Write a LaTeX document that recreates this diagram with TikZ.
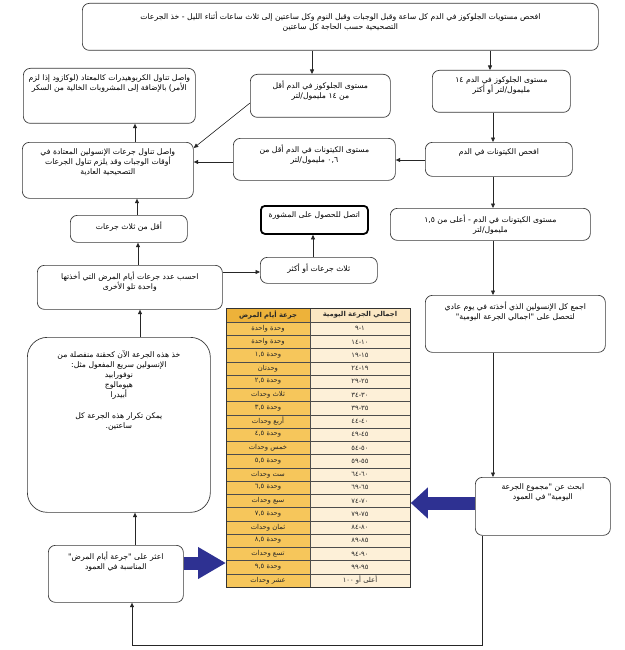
\documentclass[tikz,border=0pt]{standalone}
\usepackage{fontspec}
\setmainfont{DejaVu Sans}
\newfontfamily\arabicfont[Script=Arabic]{DejaVu Sans}
\TeXXeTstate=1
\usetikzlibrary{arrows.meta,calc}
\definecolor{boxline}{HTML}{3A3A3A}
\definecolor{gold}{HTML}{F6C65B}
\definecolor{goldhead}{HTML}{EDB23A}
\definecolor{cream}{HTML}{FDF0D8}
\definecolor{creamhead}{HTML}{FBE7C2}
\definecolor{fatblue}{HTML}{2E3192}
\newcommand\AR[1]{\mbox{\beginR #1\endR}}
\def\padtop{6pt}
\newcommand\FB[7][]{%
  \pgfmathsetmacro\bw{#5-#3}%
  \pgfmathsetmacro\bh{#6-#4}%
  \node[fb,anchor=north west,#1] (#2) at (#3,#4)
   {\parbox[c][\bh pt][t]{\bw pt}{\centering\vspace*{\padtop}#7\par}};}
\begin{document}
\begin{tikzpicture}[x=1pt,y=-1pt,
  fb/.style={draw=boxline,line width=0.7pt,rounded corners=7pt,inner sep=0pt,fill=white,
    font=\arabicfont\fontsize{7.7}{10.2}\selectfont},
  arr/.style={draw=black!85,line width=0.6pt,-{Triangle[length=4.5pt,width=4pt]}},
  fat/.style={line width=13pt,draw=fatblue},
  tabtxt/.style={font=\arabicfont\fontsize{6.8}{8}\selectfont,inner sep=0pt,text=black!85},
  grid/.style={draw=black!70,line width=0.4pt}]
\useasboundingbox (0,0) rectangle (624,650);
\fill[white] (0,0) rectangle (624,650);

% boxes
\def\padtop{8pt}
\FB{top}{82}{3}{598}{50}{\AR{افحص مستويات الجلوكوز في الدم كل ساعة وقبل الوجبات وقبل النوم وكل ساعتين إلى ثلاث ساعات أثناء الليل - خذ الجرعات}\\\AR{التصحيحية حسب الحاجة كل ساعتين}}
\def\padtop{6pt}
\FB{M1}{250}{74}{390}{117}{\AR{مستوى الجلوكوز في الدم أقل}\\\AR{من ١٤ مليمول/لتر}}
\FB{R1}{432}{70}{570}{112}{\AR{مستوى الجلوكوز في الدم ١٤}\\\AR{مليمول/لتر أو أكثر}}
\FB{R2}{425}{142}{572}{176}{\AR{افحص الكيتونات في الدم}}
\FB{M2}{233}{138}{395}{180}{\AR{مستوى الكيتونات في الدم أقل من}\\\AR{٠,٦ مليمول/لتر}}
\FB{L1}{23}{68}{195}{123}{\AR{واصل تناول الكربوهيدرات كالمعتاد (لوكازود إذا لزم}\\\AR{الأمر) بالإضافة إلى المشروبات الخالية من السكر}}
\FB{L2}{22}{142}{193}{198}{\AR{واصل تناول جرعات الإنسولين المعتادة في}\\\AR{أوقات الوجبات وقد يلزم تناول الجرعات}\\\AR{التصحيحية العادية}}
\FB{L3}{70}{215}{187}{242}{\AR{أقل من ثلاث جرعات}}
\FB{L4}{37}{265}{222}{309}{\AR{احسب عدد جرعات أيام المرض التي أخذتها}\\\AR{واحدة تلو الأخرى}}
\FB{L5}{260}{257}{377}{283}{\AR{ثلاث جرعات أو أكثر}}
\FB[line width=1.8pt,draw=black,rounded corners=4pt]{L6}{260}{205}{367}{233}{\AR{اتصل للحصول على المشورة}}
\FB{R3}{390}{208}{590}{240}{\AR{مستوى الكيتونات في الدم - أعلى من ١,٥}\\\AR{مليمول/لتر}}
\FB{R4}{425}{295}{605}{352}{\AR{اجمع كل الإنسولين الذي أخذته في يوم عادي}\\\AR{لتحصل على "اجمالي الجرعة اليومية"}}
\FB{R5}{475}{477}{610}{535}{\AR{ابحث عن "مجموع الجرعة}\\\AR{اليومية" في العمود}}
\def\padtop{13pt}
\FB[rounded corners=20pt]{L7}{27}{337}{210}{512}{\AR{خذ هذه الجرعة الآن كحقنة منفصلة من}\\\AR{الإنسولين سريع المفعول مثل:}\\\AR{نوفورابيد}\\\AR{هيومالوج}\\\AR{أبيدرا}\\[10pt]\AR{يمكن تكرار هذه الجرعة كل}\\\AR{ساعتين.}}
\def\padtop{6pt}
\FB{L8}{48}{545}{183}{602}{\AR{اعثر على "جرعة أيام المرض"}\\\AR{المناسبة في العمود}}

% table
\fill[goldhead] (226,308) rectangle (310,322);
\fill[creamhead] (310,308) rectangle (410,322);
\fill[gold] (226,322) rectangle (310,587);
\fill[cream] (310,322) rectangle (410,587);
\foreach \i in {0,...,19} \draw[grid] (226,{322+13.25*\i}) -- (410,{322+13.25*\i});
\draw[grid] (310,308) -- (310,587);
\node[tabtxt] at (268,315) {\bfseries\AR{جرعة أيام المرض}};
\node[tabtxt] at (360,315) {\bfseries\AR{اجمالي الجرعة اليومية}};
\foreach \l/\r [count=\i from 0] in {
 {وحدة واحدة}/{١-٩},
 {وحدة واحدة}/{١٠-١٤},
 {وحدة ١,٥}/{١٥-١٩},
 {وحدتان}/{١٩-٢٤},
 {وحدة ٢,٥}/{٢٥-٢٩},
 {ثلاث وحدات}/{٣٠-٣٤},
 {وحدة ٣,٥}/{٣٥-٣٩},
 {أربع وحدات}/{٤٠-٤٤},
 {وحدة ٤,٥}/{٤٥-٤٩},
 {خمس وحدات}/{٥٠-٥٤},
 {وحدة ٥,٥}/{٥٥-٥٩},
 {ست وحدات}/{٦٠-٦٤},
 {وحدة ٦,٥}/{٦٥-٦٩},
 {سبع وحدات}/{٧٠-٧٤},
 {وحدة ٧,٥}/{٧٥-٧٩},
 {ثمان وحدات}/{٨٠-٨٤},
 {وحدة ٨,٥}/{٨٥-٨٩},
 {تسع وحدات}/{٩٠-٩٤},
 {وحدة ٩,٥}/{٩٥-٩٩},
 {عشر وحدات}/{أعلى أو ١٠٠}}
 {\node[tabtxt] at (268,{322+13.25*(\i+0.5)}) {\AR{\l}};
  \node[tabtxt] at (360,{322+13.25*(\i+0.5)}) {\AR{\r}};}
\node[draw=black!80,line width=0.8pt,inner sep=0pt,minimum width=184pt,minimum height=279pt,anchor=north west] (tbl) at (226,308) {};

% connectors
\draw[arr] (312,0 |- top.south) -- (312,0 |- M1.north);
\draw[arr] (490,0 |- top.south) -- (490,0 |- R1.north);
\draw[arr] (493,0 |- R1.south) -- (493,0 |- R2.north);
\draw[arr] (M1.west |- 0,103) -- (L2.east |- 0,148);
\draw[arr] (R2.west |- 0,160) -- (M2.east |- 0,160);
\draw[arr] (M2.west |- 0,162) -- (L2.east |- 0,162);
\draw[arr] (135,0 |- L2.north) -- (135,0 |- L1.south);
\draw[arr] (137,0 |- L3.north) -- (137,0 |- L2.south);
\draw[arr] (138,0 |- L4.north) -- (138,0 |- L3.south);
\draw[arr] (L4.east |- 0,272) -- (L5.west |- 0,272);
\draw[arr] (313,0 |- L5.north) -- (313,0 |- L6.south);
\draw[arr] (493,0 |- R2.south) -- (493,0 |- R3.north);
\draw[arr] (493,0 |- R3.south) -- (493,0 |- R4.north);
\draw[arr] (493,0 |- R4.south) -- (493,0 |- R5.north);
\draw[arr] (140,0 |- L7.north) -- (140,0 |- L4.south);
\draw[arr] (482,0 |- R5.south) -- (482,645) -| (132,0 |- L8.south);
\draw[arr] (135,0 |- L8.north) -- (135,0 |- L7.south);
\draw[fat,-{Triangle[length=17pt,width=30pt]}] (R5.west |- 0,503) -- (tbl.east |- 0,503);
\draw[fat,-{Triangle[length=28pt,width=30pt]}] (L8.east |- 0,563) -- (tbl.west |- 0,563);
\end{tikzpicture}
\end{document}
